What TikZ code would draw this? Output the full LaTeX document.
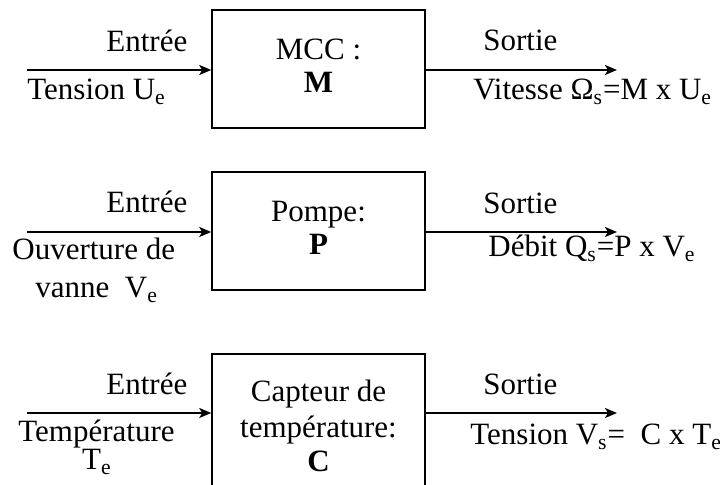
\documentclass[tikz,border=0pt]{standalone}
\usepackage{fontspec}
\setmainfont{Liberation Serif}
\usetikzlibrary{arrows.meta}
\newcommand\subs[1]{\textsubscript{#1}}
\tikzset{
  blockbox/.style={draw, line width=0.75pt, minimum width=106.5pt, inner sep=0pt},
  flow/.style={line width=0.9pt, -{Stealth[length=6pt, width=5pt, inset=1.5pt]}},
  lbl/.style={anchor=base west, inner sep=0pt, font=\fontsize{15.5}{17}\selectfont},
  clbl/.style={anchor=base, inner sep=0pt, font=\fontsize{15.5}{17}\selectfont},
}
\begin{document}
\begin{tikzpicture}[x=0.5pt, y=-0.5pt]
\useasboundingbox (0,0) rectangle (720,485);

% --- blocks
\node[blockbox, minimum height=59pt]  (mcc)    at (318.5,69)  {};
\node[blockbox, minimum height=59pt]  (pompe)  at (318.5,231) {};
\node[blockbox, minimum height=68pt]  (capt)   at (318.5,422) {};

% --- free ends of the connectors
\coordinate (in1)  at (27,70);
\coordinate (out1) at (617,70);
\coordinate (in2)  at (27,232);
\coordinate (out2) at (617,232);
\coordinate (in3)  at (27,413);
\coordinate (out3) at (617,413);

\draw[flow] (in1) -- (mcc.west |- in1);
\draw[flow] (mcc.east |- out1) -- (out1);
\draw[flow] (in2) -- (pompe.west |- in2);
\draw[flow] (pompe.east |- out2) -- (out2);
\draw[flow] (in3) -- (capt.west |- in3);
\draw[flow] (capt.east |- out3) -- (out3);

% --- row 1 : moteur
\node[lbl]  (e1)  at (106,52)  {Entrée};
\node[lbl]  (u1)  at (27,100)  {Tension U\subs{e}};
\node[clbl] (m1a) at (318.5,60) {MCC :};
\node[clbl] (m1b) at (318.5,93) {\bfseries M};
\node[lbl]  (s1)  at (483,51)  {Sortie};
\node[lbl]  (v1)  at (473,100) {Vitesse Ω\subs{s}=M x U\subs{e}};

% --- row 2 : pompe
\node[lbl]  (e2)  at (106,213) {Entrée};
\node[lbl]  (o2)  at (12,260)  {Ouverture de};
\node[lbl]  (o2b) at (35,298)  {vanne\ \ V\subs{e}};
\node[clbl] (p2a) at (318.5,222) {Pompe:};
\node[clbl] (p2b) at (318.5,255) {\bfseries P};
\node[lbl]  (s2)  at (483,214) {Sortie};
\node[lbl]  (q2)  at (488,257) {Débit Q\subs{s}=P x V\subs{e}};

% --- row 3 : capteur
\node[lbl]  (e3)  at (106,395) {Entrée};
\node[lbl]  (t3)  at (18,442)  {Température};
\node[clbl] (t3b) at (97,470)  {T\subs{e}};
\node[clbl] (c3a) at (318.5,402) {Capteur de};
\node[clbl] (c3b) at (318.5,438) {température:};
\node[clbl] (c3c) at (318.5,472) {\bfseries C};
\node[lbl]  (s3)  at (483,395) {Sortie};
\node[lbl]  (v3)  at (470,445) {Tension V\subs{s}=\ \ C x T\subs{e}};
\end{tikzpicture}
\end{document}
